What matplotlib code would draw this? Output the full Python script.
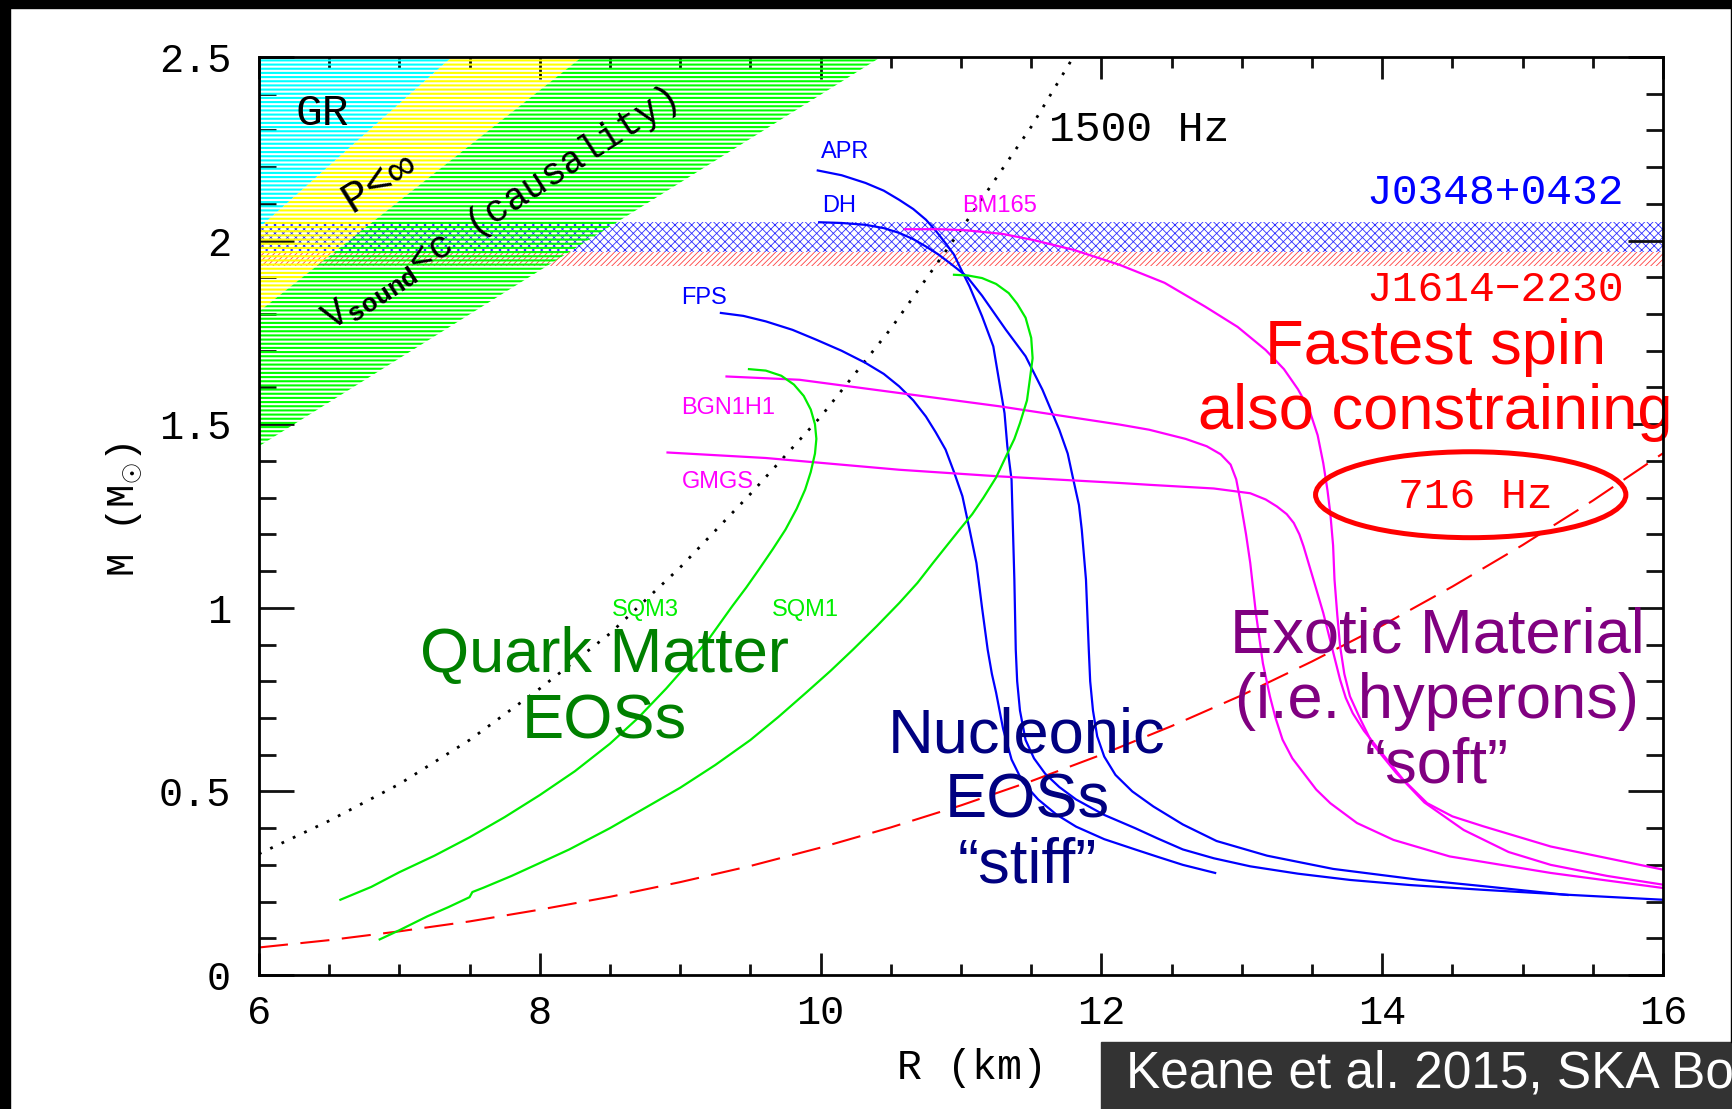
import matplotlib.pyplot as plt
from matplotlib.patches import Ellipse, Rectangle
from matplotlib.lines import Line2D
from matplotlib.ticker import MultipleLocator

plt.rcParams['font.family'] = ['Liberation Mono', 'DejaVu Sans Mono']
plt.rcParams['mathtext.fontset'] = 'custom'
plt.rcParams['mathtext.rm'] = 'Liberation Mono'
plt.rcParams['mathtext.bf'] = 'Liberation Mono:bold'

SANS = ['Liberation Sans', 'DejaVu Sans']

# mass-radius curves, R in km, M in solar masses
apr_r = [9.98, 10.15, 10.32, 10.45, 10.56, 10.66, 10.75, 10.82, 10.89, 10.95, 10.99, 11.06, 11.15,
         11.23, 11.27, 11.31, 11.33, 11.36, 11.37, 11.38, 11.39, 11.40, 11.42, 11.46, 11.52, 11.60,
         11.70, 11.82, 12.02, 12.24, 12.40, 12.58, 12.80, 13.06, 13.40, 13.77, 14.20, 14.72, 15.30, 16.0]
apr_m = [2.191, 2.178, 2.157, 2.136, 2.111, 2.086, 2.057, 2.027, 1.993, 1.962, 1.930, 1.876, 1.794,
         1.712, 1.621, 1.530, 1.440, 1.349, 1.213, 1.077, 0.886, 0.800, 0.720, 0.640, 0.590, 0.548,
         0.512, 0.478, 0.436, 0.400, 0.372, 0.342, 0.318, 0.296, 0.276, 0.259, 0.245, 0.232, 0.219, 0.205]

dh_r = [9.99, 10.15, 10.32, 10.45, 10.56, 10.66, 10.75, 10.84, 10.92, 11.04, 11.15, 11.32, 11.46,
        11.58, 11.70, 11.76, 11.80, 11.84, 11.86, 11.89, 11.91, 11.92, 11.94, 11.97, 12.02, 12.10,
        12.22, 12.37, 12.58, 12.82, 13.18, 13.65, 14.25, 14.72, 15.32]
dh_m = [2.050, 2.048, 2.043, 2.034, 2.021, 2.004, 1.984, 1.962, 1.939, 1.903, 1.850, 1.757, 1.685,
        1.594, 1.485, 1.420, 1.349, 1.280, 1.213, 1.077, 0.886, 0.800, 0.720, 0.650, 0.595, 0.545,
        0.500, 0.459, 0.410, 0.365, 0.325, 0.289, 0.260, 0.242, 0.218]

fps_r = [9.29, 9.45, 9.61, 9.80, 9.97, 10.15, 10.32, 10.45, 10.56, 10.66, 10.75, 10.82, 10.89, 10.95,
         11.01, 11.06, 11.11, 11.15, 11.19, 11.22, 11.25, 11.30, 11.36, 11.44, 11.55, 11.68, 11.82,
         12.02, 12.24, 12.40, 12.58, 12.81]
fps_m = [1.803, 1.795, 1.780, 1.757, 1.730, 1.700, 1.667, 1.637, 1.603, 1.565, 1.521, 1.478, 1.431,
         1.370, 1.304, 1.215, 1.122, 1.000, 0.886, 0.820, 0.769, 0.670, 0.587, 0.525, 0.478, 0.437,
         0.404, 0.370, 0.342, 0.322, 0.300, 0.278]

bm165_r = [10.60, 10.85, 11.04, 11.30, 11.51, 11.80, 12.13, 12.45, 12.74, 12.97, 13.17, 13.30, 13.40,
           13.48, 13.54, 13.58, 13.61, 13.63, 13.65, 13.66, 13.68, 13.70, 13.73, 13.77, 13.84, 13.93,
           14.10, 14.30, 14.58, 14.90, 15.20, 15.60, 16.0]
bm165_m = [2.031, 2.031, 2.028, 2.018, 2.002, 1.975, 1.934, 1.885, 1.820, 1.765, 1.702, 1.650, 1.595,
           1.540, 1.470, 1.394, 1.320, 1.258, 1.170, 1.077, 0.980, 0.895, 0.820, 0.759, 0.700, 0.630,
           0.550, 0.470, 0.395, 0.335, 0.300, 0.270, 0.246]

bgn1h1_r = [9.33, 9.85, 10.56, 11.27, 11.75, 12.13, 12.34, 12.60, 12.75, 12.85, 12.92, 12.96, 12.99,
            13.03, 13.06, 13.10, 13.15, 13.20, 13.24, 13.29, 13.36, 13.44, 13.53, 13.63, 13.82, 14.08,
            14.48, 15.20, 16.0]
bgn1h1_m = [1.630, 1.621, 1.585, 1.549, 1.521, 1.499, 1.485, 1.460, 1.440, 1.418, 1.390, 1.350, 1.290,
            1.200, 1.122, 0.986, 0.849, 0.759, 0.700, 0.641, 0.590, 0.550, 0.505, 0.468, 0.414, 0.368,
            0.323, 0.278, 0.237]

gmgs_r = [8.91, 9.61, 10.56, 11.27, 12.13, 12.34, 12.80, 13.06, 13.17, 13.25, 13.32, 13.37, 13.41,
          13.44, 13.51, 13.58, 13.64, 13.70, 13.74, 13.79, 13.87, 13.96, 14.15, 14.32, 14.50, 14.72,
          15.20, 16.0]
gmgs_m = [1.423, 1.408, 1.376, 1.358, 1.340, 1.335, 1.325, 1.312, 1.295, 1.276, 1.255, 1.231, 1.200,
          1.167, 1.077, 0.986, 0.895, 0.804, 0.755, 0.713, 0.665, 0.622, 0.532, 0.468, 0.432, 0.405,
          0.350, 0.287]

sqm3_r = [6.58, 6.80, 7.00, 7.25, 7.50, 7.75, 8.00, 8.25, 8.50, 8.70, 8.90, 9.05, 9.20, 9.37, 9.47,
          9.56, 9.66, 9.75, 9.83, 9.89, 9.93, 9.96, 9.97, 9.96, 9.93, 9.88, 9.81, 9.72, 9.61, 9.49]
sqm3_m = [0.205, 0.240, 0.280, 0.325, 0.375, 0.430, 0.490, 0.555, 0.630, 0.700, 0.780, 0.845, 0.913,
          1.004, 1.055, 1.104, 1.160, 1.213, 1.270, 1.322, 1.370, 1.420, 1.460, 1.500, 1.540, 1.577,
          1.608, 1.632, 1.646, 1.650]

sqm1_r = [6.86, 7.00, 7.20, 7.35, 7.50, 7.52, 7.60, 7.80, 8.00, 8.21, 8.50, 8.75, 9.00, 9.25, 9.50,
          9.70, 9.90, 10.07, 10.23, 10.40, 10.56, 10.69, 10.80, 10.90, 10.99, 11.08, 11.16, 11.25,
          11.32, 11.38, 11.42, 11.47, 11.49, 11.51, 11.50, 11.46, 11.40, 11.34, 11.25, 11.15, 11.05, 10.95]
sqm1_m = [0.097, 0.122, 0.160, 0.185, 0.212, 0.226, 0.238, 0.270, 0.305, 0.342, 0.400, 0.455, 0.510,
          0.572, 0.640, 0.703, 0.770, 0.828, 0.886, 0.950, 1.013, 1.068, 1.122, 1.170, 1.213, 1.255,
          1.300, 1.355, 1.412, 1.460, 1.503, 1.565, 1.621, 1.680, 1.735, 1.790, 1.828, 1.857, 1.882,
          1.898, 1.905, 1.907]

# mass-shedding limits for two spin frequencies
spin1500_r = [6.0, 6.5, 7.0, 7.5, 8.0, 8.5, 9.0, 9.5, 10.0, 10.5, 11.0, 11.5, 11.8]
spin1500_m = [0.33, 0.42, 0.52, 0.64, 0.78, 0.93, 1.11, 1.31, 1.52, 1.76, 2.03, 2.31, 2.50]
spin716_r = [6.0, 6.5, 7.0, 7.5, 8.0, 8.5, 9.0, 9.5, 10.0, 10.5, 11.0, 11.5, 12.0, 12.5, 13.0,
             13.5, 14.0, 14.5, 15.0, 15.5, 16.0]
spin716_m = [0.075, 0.095, 0.119, 0.146, 0.178, 0.213, 0.253, 0.297, 0.347, 0.402, 0.462, 0.528,
             0.600, 0.678, 0.762, 0.854, 0.952, 1.058, 1.171, 1.292, 1.421]

# excluded regions: corner points of GR, finite pressure and causality limits
gr_r = [6.0, 7.375, 6.0]
gr_m = [2.034, 2.5, 2.5]
pinf_r = [6.0, 8.30, 7.375, 6.0]
pinf_m = [1.807, 2.5, 2.5, 2.034]
causal_r = [6.0, 10.43, 8.30, 6.0]
causal_m = [1.44, 2.5, 2.5, 1.807]

# measured pulsar masses
j0348_mass, j0348_err = 2.01, 0.04
j1614_mass, j1614_err = 1.97, 0.04

x_ticks = [6, 8, 10, 12, 14, 16]
x_ticklabels = ['6', '8', '10', '12', '14', '16']
y_ticks = [0, 0.5, 1, 1.5, 2, 2.5]
y_ticklabels = ['0', '0.5', '1', '1.5', '2', '2.5']

fig = plt.figure(figsize=(17.32, 11.09), dpi=100)
ax = fig.add_axes([0.1495, 0.1208, 0.8107, 0.8278])
ax.set_xlim(6, 16)
ax.set_ylim(0, 2.5)

# pulsar mass bands
with plt.rc_context({'hatch.linewidth': 0.6}):
    ax.axhspan(j1614_mass - j1614_err, j1614_mass + j1614_err, facecolor='none',
               edgecolor='#ff4040', hatch='//////', linewidth=0, zorder=1)
    ax.axhspan(j0348_mass - j0348_err, j0348_mass + j0348_err, facecolor='white',
               edgecolor='#3030ff', hatch='xxxx', linewidth=0, zorder=1.5)

# excluded corners
with plt.rc_context({'hatch.linewidth': 1.5}):
    ax.fill(gr_r, gr_m, facecolor='none', edgecolor='#00ffff', hatch='----', linewidth=0, zorder=2)
    ax.fill(pinf_r, pinf_m, facecolor='none', edgecolor='#ffff00', hatch='----', linewidth=0, zorder=2)
    ax.fill(causal_r, causal_m, facecolor='none', edgecolor='#00ff00', hatch='----', linewidth=0, zorder=2)

ax.plot(spin1500_r, spin1500_m, color='black', lw=2, ls=(0, (1, 3.5)), zorder=3)
ax.plot(spin716_r, spin716_m, color='red', lw=1.5, ls=(0, (14, 6)), zorder=3)

blue, magenta, green = '#0000ff', '#ff00ff', '#00ee00'
for r, m, c in [(apr_r, apr_m, blue), (dh_r, dh_m, blue), (fps_r, fps_m, blue),
                (bm165_r, bm165_m, magenta), (bgn1h1_r, bgn1h1_m, magenta), (gmgs_r, gmgs_m, magenta),
                (sqm3_r, sqm3_m, green), (sqm1_r, sqm1_m, green)]:
    ax.plot(r, m, color=c, lw=1.6, zorder=4)

# curve names
for name, x, y, c in [('APR', 10.0, 2.242, blue), ('DH', 10.01, 2.095, blue), ('FPS', 9.01, 1.843, blue),
                      ('BM165', 11.01, 2.094, magenta), ('BGN1H1', 9.01, 1.543, magenta),
                      ('GMGS', 9.01, 1.343, magenta), ('SQM3', 8.515, 0.994, green),
                      ('SQM1', 9.656, 0.994, green)]:
    ax.text(x, y, name, color=c, fontsize=17, family=SANS, ha='left', va='center', zorder=5)

ax.text(6.45, 2.347, 'GR', fontsize=32, ha='center', va='center', zorder=5)
ax.text(6.86, 2.16, 'P<∞', fontsize=32, ha='center', va='center', rotation=32, zorder=5)
ax.text(7.715, 2.085, r'V$_{\mathbf{sound}}$<c (causality)', fontsize=27, ha='center', va='center',
        rotation=33, zorder=5)
ax.text(11.63, 2.30, '1500 Hz', fontsize=31, ha='left', va='center', zorder=5)
ax.text(15.72, 2.13, 'J0348+0432', fontsize=31, color='blue', ha='right', va='center', zorder=5)
ax.text(15.72, 1.865, 'J1614\u22122230', fontsize=31, color='red', ha='right', va='center', zorder=5)

ax.add_patch(Ellipse((14.63, 1.308), 2.21, 0.234, fill=False, edgecolor='red', lw=3.6, zorder=5))
ax.text(14.66, 1.303, '716 Hz', fontsize=31, color='red', ha='center', va='center', zorder=6)

ax.text(14.38, 1.62, 'Fastest spin\nalso constraining', fontsize=45.5, color='red', family=SANS,
        ha='center', va='center', linespacing=1.12, zorder=6)
ax.text(8.46, 0.78, 'Quark Matter\nEOSs', fontsize=45.5, color='#008000', family=SANS,
        ha='center', va='center', linespacing=1.15, zorder=6)
ax.text(11.47, 0.475, 'Nucleonic\nEOSs\n\u201cstiff\u201d', fontsize=45.5, color='#000080', family=SANS,
        ha='center', va='center', linespacing=1.13, zorder=6)
ax.text(14.39, 0.745, 'Exotic Material\n(i.e. hyperons)\n\u201csoft\u201d', fontsize=45.5, color='#800080',
        family=SANS, ha='center', va='center', linespacing=1.13, zorder=6)

ax.set_xticks(x_ticks)
ax.set_xticklabels(x_ticklabels)
ax.set_yticks(y_ticks)
ax.set_yticklabels(y_ticklabels)
ax.xaxis.set_minor_locator(MultipleLocator(0.5))
ax.yaxis.set_minor_locator(MultipleLocator(0.1))
ax.tick_params(which='both', direction='in', top=True, right=True, width=2, color='#111111')
ax.tick_params(axis='x', which='major', length=16, pad=14, labelsize=29)
ax.tick_params(axis='x', which='minor', length=8)
ax.tick_params(axis='y', which='major', length=25, pad=20, labelsize=29)
ax.tick_params(axis='y', which='minor', length=12.5)
for sp in ax.spines.values():
    sp.set_linewidth(2)
    sp.set_zorder(7)

ax.set_xlabel('R (km)', fontsize=30)
ax.set_ylabel(r'M (M$_{\odot}$)', fontsize=28)
ax.xaxis.set_label_coords(0.508, -0.080)
ax.yaxis.set_label_coords(-0.082, 0.507)

# slide frame and citation box
fig.add_artist(Rectangle((0, 1 - 8 / 1109), 1, 8 / 1109, transform=fig.transFigure, color='black'))
fig.add_artist(Rectangle((0, 0), 10 / 1732, 1, transform=fig.transFigure, color='black'))
fig.add_artist(Line2D([1731 / 1732] * 2, [1 - 8 / 1109, 1 - 1042 / 1109], transform=fig.transFigure,
                      color='black', lw=1))
fig.add_artist(Rectangle((1101 / 1732, 0), 631 / 1732, 67 / 1109, transform=fig.transFigure,
                         color='#333333'))
fig.text(1126 / 1732, 1 - 1074 / 1109, 'Keane et al. 2015, SKA Book', color='white', fontsize=37,
         family=SANS, ha='left', va='center')

fig.savefig('out.png', dpi=100)
